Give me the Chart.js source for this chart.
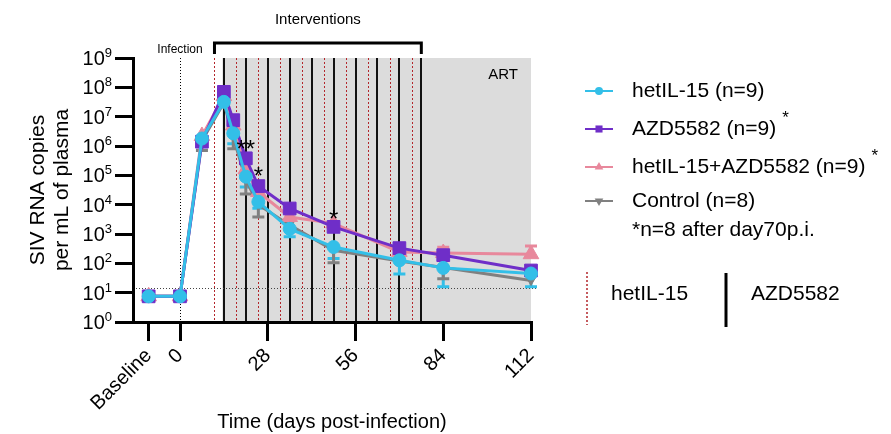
<!DOCTYPE html>
<html>
<head>
<meta charset="utf-8">
<script src="https://cdn.jsdelivr.net/npm/chart.js@4.4.1/dist/chart.umd.min.js"></script>
<style>
  html, body { margin: 0; padding: 0; background: #fff; }
</style>
</head>
<body>
<canvas id="viralLoad" width="891" height="434"></canvas>
<script>
// sampling days (Baseline plotted at day -10)
const days = [-10, 0, 7, 14, 17, 21, 25, 35, 49, 70, 84, 112];

// geometric means, SIV RNA copies / mL
const hetIL15 = [7.5, 7.5, 1.8e6, 3.2e7, 2.7e6, 9e4, 1.25e4, 1.5e3, 360, 127, 70, 45];
const azd5582 = [7.5, 7.5, 1.4e6, 7e7, 7.6e6, 3.8e5, 4.3e4, 7.4e3, 1.75e3, 330, 190, 57];
const combo = [7.5, 7.5, 2.2e6, 5e7, 5e6, 1.6e5, 2.7e4, 3.8e3, 2.3e3, 245, 225, 205];
const control = [7.5, 7.5, 1.5e6, 3e7, 2e6, 7e4, 1e4, 2e3, 280, 120, 72, 26];

// one-sided error bar ends (null = hidden behind the marker)
const hetIL15Low = [null, null, null, null, 1.2e6, 4e4, 7.5e3, 800, 145, 43, 16, 16];
const controlLow = [null, null, 7e5, null, 8e5, 2.3e4, 3.8e3, null, 105, null, 30, null];
const comboHigh = [null, null, null, null, null, null, null, null, null, null, 350, 390];

// x axis ticks
const xTickDays = [-10, 0, 28, 56, 84, 112];
const xTickLabels = ['Baseline', '0', '28', '56', '84', '112'];
const yTickPowers = [0, 1, 2, 3, 4, 5, 6, 7, 8, 9];

// study design
const infectionDay = 0;
const artStartDay = 13.5;
const hetIL15DoseDays = [11, 18, 25, 32, 39, 46, 53, 60, 67, 74];
const azdDoseDays = [14, 21, 28, 35, 42, 49, 56, 63, 70, 77];
const detectionLimit = 15;

// significance marks
const starDays = [21, 25, 49];
const starLevels = [1.3e6, 1.5e5, 5.2e3];
const starTexts = ['**', '*', '*'];

const FONT = "'Liberation Sans', Arial, sans-serif";
const font = (size) => `${size}px ${FONT}`;
Chart.defaults.font.family = FONT;
Chart.defaults.color = '#000';

const CYAN = '#33bfe8';
const PURPLE = '#6f2ec8';
const PINK = '#e8889c';
const GREY = '#808080';

function series(label, values, color, pointStyle, radius, rotation, extra) {
    return Object.assign({
        label: label,
        data: days.map((d, i) => ({ x: d, y: values[i] })),
        borderColor: color,
        backgroundColor: color,
        pointBackgroundColor: color,
        pointBorderColor: color,
        pointBorderWidth: 1,
        pointStyle: pointStyle,
        pointRadius: radius,
        pointRotation: rotation,
        borderWidth: 3,
        tension: 0,
        clip: false
    }, extra);
}

const datasets = [
    series('hetIL-15 (n=9)', hetIL15, CYAN, 'circle', 6.5, 0, { errLow: hetIL15Low, legendStar: false }),
    series('AZD5582 (n=9)', azd5582, PURPLE, 'rect', 9, 0, { legendStar: true }),
    series('hetIL-15+AZD5582 (n=9)', combo, PINK, 'triangle', 9, 0, { errHigh: comboHigh, legendStar: true }),
    series('Control (n=8)', control, GREY, 'triangle', 5, 180, { errLow: controlLow, legendStar: false })
];

// shading, dosing lines, infection line, LOD and the bracket
const studyLayout = {
    id: 'studyLayout',
    beforeDraw(chart) {
        const { ctx, chartArea: a, scales: { x, y } } = chart;
        ctx.save();
        const artX = x.getPixelForValue(artStartDay);
        ctx.fillStyle = '#dcdcdc';
        ctx.fillRect(artX, a.top, a.right - artX, a.bottom - a.top - 1);

        const vline = (px, top, bottom) => {
            ctx.beginPath();
            ctx.moveTo(px, top);
            ctx.lineTo(px, bottom);
            ctx.stroke();
        };

        ctx.strokeStyle = '#b3262b';
        ctx.lineWidth = 1;
        ctx.setLineDash([2, 2]);
        hetIL15DoseDays.forEach(d => vline(Math.round(x.getPixelForValue(d)) + 0.5, a.top, a.bottom));

        ctx.setLineDash([]);
        ctx.strokeStyle = '#111';
        ctx.lineWidth = 2;
        azdDoseDays.forEach(d => vline(Math.round(x.getPixelForValue(d)), a.top, a.bottom));

        ctx.strokeStyle = '#000';
        ctx.lineWidth = 1;
        ctx.setLineDash([1, 2]);
        vline(Math.round(x.getPixelForValue(infectionDay)) + 0.5, a.top, a.bottom);

        const lodY = Math.round(y.getPixelForValue(detectionLimit)) + 0.5;
        ctx.strokeStyle = '#444';
        ctx.beginPath();
        ctx.moveTo(a.left, lodY);
        ctx.lineTo(a.right + 6, lodY);
        ctx.stroke();

        // interventions bracket
        ctx.setLineDash([]);
        ctx.lineWidth = 3;
        ctx.strokeStyle = '#000';
        const b0 = x.getPixelForValue(hetIL15DoseDays[0]);
        const b1 = x.getPixelForValue(azdDoseDays[azdDoseDays.length - 1]);
        ctx.beginPath();
        ctx.moveTo(b0, 54);
        ctx.lineTo(b0, 43);
        ctx.lineTo(b1, 43);
        ctx.lineTo(b1, 54);
        ctx.stroke();

        ctx.fillStyle = '#000';
        ctx.textAlign = 'center';
        ctx.textBaseline = 'middle';
        ctx.font = font(15);
        ctx.fillText('Interventions', (b0 + b1) / 2, 20);
        ctx.font = font(12);
        ctx.fillText('Infection', x.getPixelForValue(infectionDay), 50);
        ctx.font = font(15);
        ctx.fillText('ART', 503, 75);
        ctx.restore();
    },
    beforeDatasetsDraw(chart) {
        const { ctx, scales: { x, y } } = chart;
        ctx.save();
        ctx.lineWidth = 3;
        chart.data.datasets.forEach(ds => {
            [ds.errLow, ds.errHigh].forEach(ends => {
                if (!ends) return;
                ctx.strokeStyle = ds.borderColor;
                ends.forEach((v, i) => {
                    if (v == null) return;
                    const px = x.getPixelForValue(days[i]);
                    const y0 = y.getPixelForValue(ds.data[i].y);
                    const y1 = y.getPixelForValue(v);
                    ctx.beginPath();
                    ctx.moveTo(px, y0);
                    ctx.lineTo(px, y1);
                    ctx.moveTo(px - 6, y1);
                    ctx.lineTo(px + 6, y1);
                    ctx.stroke();
                });
            });
        });
        ctx.restore();
    },
    afterDatasetsDraw(chart) {
        const { ctx, scales: { x, y } } = chart;
        ctx.save();
        ctx.fillStyle = '#000';
        ctx.font = font(24);
        ctx.textAlign = 'center';
        ctx.textBaseline = 'alphabetic';
        starDays.forEach((d, i) => {
            ctx.fillText(starTexts[i], x.getPixelForValue(d), y.getPixelForValue(starLevels[i]) + 14);
        });
        ctx.restore();
    },
    afterDraw(chart) {
        const { ctx, chartArea: a, scales: { y } } = chart;
        ctx.save();
        ctx.fillStyle = '#000';

        // y tick labels 10^n
        ctx.textBaseline = 'alphabetic';
        yTickPowers.forEach(p => {
            const py = y.getPixelForValue(Math.pow(10, p));
            ctx.font = font(13);
            const sw = ctx.measureText(String(p)).width;
            ctx.textAlign = 'left';
            ctx.fillText(String(p), 112 - sw, py - 1);
            ctx.font = font(20);
            ctx.textAlign = 'right';
            ctx.fillText('10', 112 - sw, py + 7);
        });

        // axis titles
        ctx.font = font(21);
        ctx.textAlign = 'center';
        ctx.textBaseline = 'middle';
        const midY = (a.top + a.bottom) / 2;
        ctx.save();
        ctx.translate(38, midY);
        ctx.rotate(-Math.PI / 2);
        ctx.fillText('SIV RNA copies', 0, 0);
        ctx.fillText('per mL of plasma', 0, 24);
        ctx.restore();
        ctx.font = font(20);
        ctx.fillText('Time (days post-infection)', (a.left + a.right) / 2, 422);

        // legend
        const rowY = [91, 129, 167, 201];
        ctx.textAlign = 'left';
        chart.data.datasets.forEach((ds, i) => {
            const ly = rowY[i];
            ctx.strokeStyle = ds.borderColor;
            ctx.fillStyle = ds.borderColor;
            ctx.lineWidth = 2;
            ctx.beginPath();
            ctx.moveTo(585, ly);
            ctx.lineTo(613, ly);
            ctx.stroke();
            Chart.helpers.drawPoint(ctx, {
                pointStyle: ds.pointStyle,
                rotation: ds.pointRotation,
                radius: ds.pointStyle === 'circle' ? 4 : 5,
                borderWidth: 0
            }, 599, ly);
            ctx.fillStyle = '#000';
            ctx.font = font(21);
            ctx.textBaseline = 'middle';
            ctx.fillText(ds.label, 632, ly);
            if (ds.legendStar) {
                const w = ctx.measureText(ds.label).width;
                ctx.font = font(17);
                ctx.fillText('*', 632 + w + 6, ly - 11);
            }
        });
        ctx.font = font(21);
        ctx.fillStyle = '#000';
        ctx.fillText('*n=8 after day70p.i.', 632, 230);

        // dosing key
        ctx.strokeStyle = '#b3262b';
        ctx.lineWidth = 1.5;
        ctx.setLineDash([2, 2]);
        ctx.beginPath();
        ctx.moveTo(587, 272);
        ctx.lineTo(587, 325);
        ctx.stroke();
        ctx.setLineDash([]);
        ctx.strokeStyle = '#000';
        ctx.lineWidth = 3;
        ctx.beginPath();
        ctx.moveTo(726, 273);
        ctx.lineTo(726, 327);
        ctx.stroke();
        ctx.fillText('hetIL-15', 611, 294);
        ctx.fillText('AZD5582', 751, 294);
        ctx.restore();
    }
};

new Chart(document.getElementById('viralLoad'), {
    type: 'line',
    data: { datasets: datasets },
    plugins: [studyLayout],
    options: {
        responsive: false,
        animation: false,
        layout: { padding: { left: 0, top: 58, right: 360, bottom: 0 } },
        plugins: {
            legend: { display: false },
            tooltip: { enabled: false }
        },
        scales: {
            x: {
                type: 'linear',
                min: -15,
                max: 112,
                afterFit: (scale) => { scale.height = 112; },
                afterBuildTicks: (scale) => { scale.ticks = xTickDays.map(v => ({ value: v })); },
                border: { display: true, color: '#000', width: 3 },
                grid: { drawOnChartArea: false, drawTicks: true, tickLength: 19, color: '#000', lineWidth: 3 },
                ticks: {
                    autoSkip: false,
                    minRotation: 45,
                    maxRotation: 45,
                    font: { size: 20 },
                    color: '#000',
                    callback: (value, index) => xTickLabels[index]
                }
            },
            y: {
                type: 'logarithmic',
                min: 1,
                max: 1e9,
                afterFit: (scale) => { scale.width = 133; },
                afterBuildTicks: (scale) => { scale.ticks = yTickPowers.map(p => ({ value: Math.pow(10, p) })); },
                border: { display: true, color: '#000', width: 3 },
                grid: { drawOnChartArea: false, drawTicks: true, tickLength: 18, color: '#000', lineWidth: 3 },
                ticks: { display: false }
            }
        }
    }
});
</script>
</body>
</html>
